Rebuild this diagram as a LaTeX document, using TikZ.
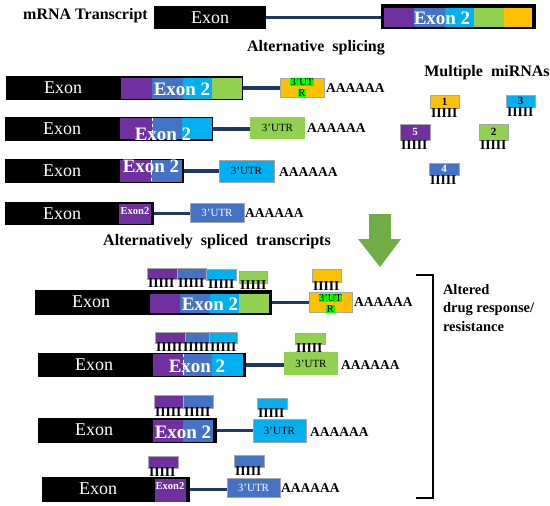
\documentclass[tikz,border=0pt]{standalone}
\usepackage{fontspec}
\setmainfont{Liberation Serif}
\usepackage{tikz}
\usetikzlibrary{calc}
\definecolor{mpurple}{HTML}{7030A0}
\definecolor{mblue}{HTML}{4472C4}
\definecolor{mcyan}{HTML}{00B0F0}
\definecolor{mgreen}{HTML}{92D050}
\definecolor{morange}{HTML}{FFC000}
\definecolor{navy}{HTML}{1F3864}
\definecolor{arrowgreen}{HTML}{70AD47}
\definecolor{hlgreen}{HTML}{00FF00}
\newcommand{\hl}[1]{{\setlength{\fboxsep}{0.5pt}\colorbox{hlgreen}{#1}}}

\begin{document}
\begin{tikzpicture}[x=1pt, y=-1pt,
  seg/.style={inner sep=0pt, outer sep=0pt, anchor=north west},
  sz/.style 2 args={minimum width=#1pt, minimum height=#2pt},
  blk/.style={seg, fill=black, text=white, font=\fontsize{18}{20}\selectfont},
  exontxt/.style={inner sep=0pt, text=white, font=\fontsize{18}{20}\selectfont},
  extwo/.style={inner sep=0pt, text=white, font=\bfseries\fontsize{19}{20}\selectfont},
  utr/.style={seg, draw=gray!70, line width=0.5pt, font=\fontsize{11}{11}\selectfont},
  mir/.style={seg, draw=gray!70, line width=0.5pt, font=\bfseries\fontsize{11}{11}\selectfont},
  comb/.style={seg, font=\bfseries\fontsize{13.5}{13.5}\selectfont},
  link/.style={draw=navy, line width=3.5pt},
  hd/.style={inner sep=0pt, font=\bfseries\fontsize{16}{16}\selectfont},
  polya/.style={inner sep=0pt, anchor=west, font=\bfseries\fontsize{13.5}{14}\selectfont}]
  \useasboundingbox (0,0) rectangle (550,506);

  % original transcript
  \node[hd, anchor=west] (title) at (23,16) {mRNA Transcript};
  \node[blk, sz={112}{23}] (t0) at (154,6) {Exon};
  \node[seg, sz={155}{25}, fill=black] (t1) at (381,4) {};
  \node[seg, sz={30}{19}, fill=mpurple] (t1a) at (384,8) {};
  \node[seg, sz={31}{19}, fill=mblue] (t1b) at (414,8) {};
  \node[seg, sz={29}{19}, fill=mcyan] (t1c) at (445,8) {};
  \node[seg, sz={30}{19}, fill=mgreen] (t1d) at (474,8) {};
  \node[seg, sz={28}{19}, fill=morange] (t1e) at (504,8) {};
  \node[extwo] (t1x) at (442,18) {Exon 2};
  \draw[link] (t0.east) -- (t0.east -| t1.west);
  \node[hd] (splice) at (316,48) {Alternative\ \ splicing};

  % spliced variants
  \node[blk, sz={237}{24}] (r1) at (6,76) {};
  \node[exontxt] (r1x) at (63,88) {Exon};
  \node[seg, sz={31}{21}, fill=mpurple] (r1a) at (121,78) {};
  \node[seg, sz={31}{21}, fill=mblue] (r1b) at (152,78) {};
  \node[seg, sz={29}{21}, fill=mcyan] (r1c) at (183,78) {};
  \node[seg, sz={30}{21}, fill=mgreen] (r1d) at (212,78) {};
  \node[extwo] (r1e) at (182,89) {Exon 2};
  \node[utr, sz={44}{19}, fill=morange] (u1) at (280,78) {};
  \node[align=center, inner sep=0pt, font=\fontsize{10.5}{11}\selectfont] (u1x) at (u1) {\hl{3'UT}\\\hl{R}};
  \draw[link] (r1.east) -- (r1.east -| u1.west);
  \node[polya] (p1) at (326,88) {AAAAAA};

  \node[blk, sz={208}{24}] (r2) at (5,117) {};
  \node[exontxt] (r2x) at (62,129) {Exon};
  \node[seg, sz={32}{21}, fill=mpurple] (r2a) at (120,118) {};
  \node[seg, sz={30}{21}, fill=mblue] (r2b) at (152,118) {};
  \node[seg, sz={30}{21}, fill=mcyan] (r2c) at (182,118) {};
  \draw[white, dashed, line width=0.4pt] (r2b.north west) -- (r2b.south west);
  \node[extwo] (r2e) at (163,134) {Exon 2};
  \node[utr, sz={55}{22}, fill=mgreen, draw=none] (u2) at (250,117) {3'UTR};
  \draw[link] (r2.east) -- (r2.east -| u2.west);
  \node[polya] (p2) at (307,128) {AAAAAA};

  \node[blk, sz={179}{24}] (r3) at (5,159) {};
  \node[exontxt] (r3x) at (62,171) {Exon};
  \node[seg, sz={31}{22}, fill=mpurple] (r3a) at (120,160) {};
  \node[seg, sz={31}{22}, fill=mblue] (r3b) at (151,160) {};
  \draw[white, dashed, line width=0.4pt] (r3b.north west) -- (r3b.south west);
  \node[extwo] (r3e) at (151,166) {Exon 2};
  \node[utr, sz={55}{22}, fill=mcyan] (u3) at (219,160) {3'UTR};
  \draw[link] (r3.east) -- (r3.east -| u3.west);
  \node[polya] (p3) at (279,172) {AAAAAA};

  \node[blk, sz={149}{23}] (r4) at (5,202) {};
  \node[exontxt] (r4x) at (62,214) {Exon};
  \node[seg, sz={32}{20}, fill=mpurple] (r4a) at (119,204) {};
  \node[inner sep=0pt, text=white, font=\bfseries\fontsize{10.5}{11}\selectfont] (r4e) at (135,211) {Exon2};
  \node[utr, sz={54}{19}, fill=mblue] (u4) at (190,203) {\color{white}3'UTR};
  \draw[link] (r4.east) -- (r4.east -| u4.west);
  \node[polya] (p4) at (245,213) {AAAAAA};

  % free miRNAs
  \node[hd] (mirs) at (487,73) {Multiple\ \ miRNAs};
  \node[mir, sz={29}{13}, fill=morange] (m1) at (430,95) {1};
  \node[comb] (m1c) at (431,108.5) {IIIII};
  \node[mir, sz={29}{12}, fill=mcyan] (m3) at (506,95) {3};
  \node[comb] (m3c) at (507,107.5) {IIIII};
  \node[mir, sz={30}{16}, fill=mpurple, text=white] (m5) at (400,124) {5};
  \node[comb] (m5c) at (401,140.5) {IIIII};
  \node[mir, sz={29}{16}, fill=mgreen] (m2) at (479,124) {2};
  \node[comb] (m2c) at (480,140.5) {IIIII};
  \node[mir, sz={30}{12}, fill=mblue, text=white] (m4) at (429,163) {4};
  \node[comb] (m4c) at (430,175.5) {IIIII};

  \node[hd] (alt) at (217,242) {Alternatively\ \ spliced\ \ transcripts};
  \fill[arrowgreen] (369,214) -- (391,214) -- (391,239) -- (401,239) -- (380,267)
    -- (358,239) -- (369,239) -- cycle;

  % transcripts with bound miRNAs
  \node[blk, sz={237}{25}] (s1) at (35,290) {};
  \node[exontxt] (s1x) at (91,302) {Exon};
  \node[seg, sz={30}{19}, fill=mpurple] (s1a) at (150,294) {};
  \node[seg, sz={30}{19}, fill=mblue] (s1b) at (180,294) {};
  \node[seg, sz={29}{19}, fill=mcyan] (s1c) at (210,294) {};
  \node[seg, sz={30}{19}, fill=mgreen] (s1d) at (239,294) {};
  \node[extwo] (s1e) at (210,304) {Exon 2};
  \node[mir, sz={30}{11}, fill=mpurple] (s1m1) at (147,268) {};
  \node[mir, sz={29}{11}, fill=mblue] (s1m2) at (177,268) {};
  \node[mir, sz={30}{11}, fill=mcyan] (s1m3) at (206,269) {};
  \node[mir, sz={28}{12}, fill=mgreen] (s1m4) at (239,271) {};
  \node[comb] (s1c1) at (148,279) {IIIII};
  \node[comb] (s1c2) at (178,279) {IIIII};
  \node[comb] (s1c3) at (208,280) {IIIII};
  \node[comb] (s1c4) at (240,281) {IIIII};
  \node[utr, sz={43}{20}, fill=morange] (v1) at (309,292) {};
  \node[align=center, inner sep=0pt, font=\fontsize{10.5}{11}\selectfont] (v1x) at ($(v1)+(0,1.5)$) {\hl{3'UT}\\\hl{R}};
  \node[mir, sz={29}{13}, fill=morange] (v1m) at (312,269) {};
  \node[comb] (v1c) at (313,282) {IIIII};
  \draw[link] (s1.east) -- (s1.east -| v1.west);
  \node[polya] (q1) at (354,302) {AAAAAA};

  \node[blk, sz={208}{24}] (s2) at (38,353) {};
  \node[exontxt] (s2x) at (94,365) {Exon};
  \node[seg, sz={30}{22}, fill=mpurple] (s2a) at (153,354) {};
  \node[seg, sz={29}{22}, fill=mblue] (s2b) at (183,354) {};
  \node[seg, sz={31}{22}, fill=mcyan] (s2c) at (212,354) {};
  \draw[white, dashed, line width=0.4pt] (s2b.north west) -- (s2b.south west);
  \node[extwo] (s2e) at (197,366) {Exon 2};
  \node[mir, sz={30}{11}, fill=mpurple] (s2m1) at (155,332) {};
  \node[mir, sz={29}{11}, fill=mblue] (s2m2) at (185,332) {};
  \node[mir, sz={28}{11}, fill=mcyan] (s2m3) at (209,332) {};
  \node[comb] (s2c1) at (156,343) {IIIII};
  \node[comb] (s2c2) at (183,343) {IIIII};
  \node[comb] (s2c3) at (210,343) {IIIII};
  \node[utr, sz={54}{23}, fill=mgreen, draw=none] (v2) at (284,352) {3'UTR};
  \node[mir, sz={30}{11}, fill=mgreen] (v2m) at (295,333) {};
  \node[comb] (v2c) at (296,344) {IIIII};
  \draw[link] (s2.east) -- (s2.east -| v2.west);
  \node[polya] (q2) at (341,365) {AAAAAA};

  \node[blk, sz={179}{25}] (s3) at (38,418) {};
  \node[exontxt] (s3x) at (94,430) {Exon};
  \node[seg, sz={30}{22}, fill=mpurple] (s3a) at (153,420) {};
  \node[seg, sz={30}{22}, fill=mblue] (s3b) at (183,420) {};
  \node[extwo] (s3e) at (183,432) {Exon 2};
  \node[mir, sz={29}{13}, fill=mpurple] (s3m1) at (154,395) {};
  \node[mir, sz={30}{13}, fill=mblue] (s3m2) at (183,395) {};
  \node[comb] (s3c1) at (155,408) {IIIII};
  \node[comb] (s3c2) at (184,408) {IIIII};
  \node[utr, sz={53}{23}, fill=mcyan] (v3) at (253,419) {3'UTR};
  \node[mir, sz={30}{11}, fill=mcyan] (v3m) at (257,398) {};
  \node[comb] (v3c) at (258,409) {IIIII};
  \draw[link] (s3.east) -- (s3.east -| v3.west);
  \node[polya] (q3) at (310,432) {AAAAAA};

  \node[blk, sz={148}{25}] (s4) at (42,477) {};
  \node[exontxt] (s4x) at (98,489) {Exon};
  \node[seg, sz={31}{23}, fill=mpurple] (s4a) at (155,479) {};
  \node[inner sep=0pt, text=white, font=\bfseries\fontsize{10.5}{11}\selectfont] (s4e) at (170,486) {Exon2};
  \node[mir, sz={30}{12}, fill=mpurple] (s4m) at (148,456) {};
  \node[comb] (s4c) at (149,468) {IIIII};
  \node[utr, sz={53}{19}, fill=mblue] (v4) at (227,478) {\color{white}3'UTR};
  \node[mir, sz={30}{12}, fill=mblue] (v4m) at (234,455) {};
  \node[comb] (v4c) at (235,467) {IIIII};
  \draw[link] (s4.east) -- (s4.east -| v4.west);
  \node[polya] (q4) at (281,488) {AAAAAA};

  % bracket
  \draw[line width=1.5pt] (416,275) -- (433,275) -- (433,498) -- (416,498);
  \node[seg, align=left, font=\bfseries\fontsize{14.5}{18.5}\selectfont] (effect) at (443,284)
    {Altered\\drug response/\\resistance};
\end{tikzpicture}
\end{document}
